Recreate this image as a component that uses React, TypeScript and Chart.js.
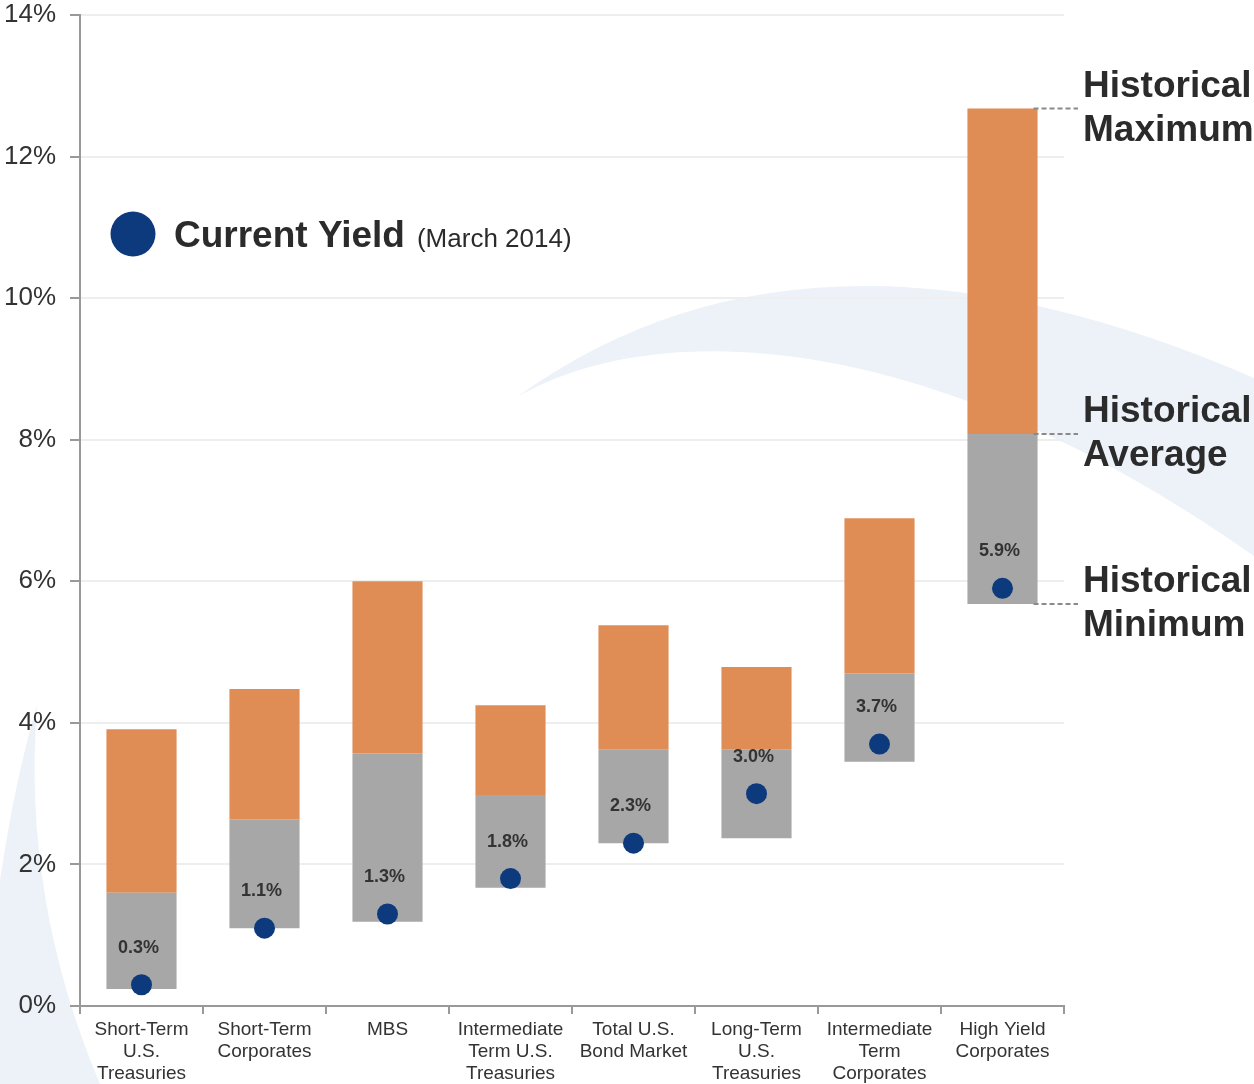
import React, { useEffect, useRef } from "react";
import { Chart, registerables } from "chart.js";

Chart.register(...registerables);

const categories: string[][] = [
  ["Short-Term", "U.S.", "Treasuries"],
  ["Short-Term", "Corporates"],
  ["MBS"],
  ["Intermediate", "Term U.S.", "Treasuries"],
  ["Total U.S.", "Bond Market"],
  ["Long-Term", "U.S.", "Treasuries"],
  ["Intermediate", "Term", "Corporates"],
  ["High Yield", "Corporates"],
];

const histMin = [0.24, 1.1, 1.19, 1.67, 2.3, 2.37, 3.45, 5.68];
const histAvg = [1.6, 2.64, 3.57, 2.98, 3.62, 3.62, 4.7, 8.08];
const histMax = [3.91, 4.48, 6.0, 4.25, 5.38, 4.79, 6.89, 12.68];
const currentYield = [0.3, 1.1, 1.3, 1.8, 2.3, 3.0, 3.7, 5.9];

const yTicks = [0, 2, 4, 6, 8, 10, 12, 14];

const FONT = "'Liberation Sans', Arial, Helvetica, sans-serif";
const ORANGE = "#df8c55";
const GREY = "#a7a7a7";
const NAVY = "#0c3a7c";
const TEXT = "#333333";
const SWOOSH = "#edf2f9";

const backgroundPlugin = {
  id: "bgSwoosh",
  beforeDraw(chart: any) {
    const ctx = chart.ctx;
    const W = chart.width;
    const H = chart.height;
    ctx.save();
    ctx.fillStyle = "#ffffff";
    ctx.fillRect(0, 0, W, H);
    ctx.fillStyle = SWOOSH;
    // top-right swoosh
    ctx.beginPath();
    ctx.moveTo(517, 397);
    ctx.quadraticCurveTo(810, 185, W, 378);
    ctx.lineTo(W, 556);
    ctx.bezierCurveTo(920, 320, 650, 320, 517, 397);
    ctx.closePath();
    ctx.fill();
    // bottom-left swoosh
    ctx.beginPath();
    ctx.moveTo(37, 705);
    ctx.quadraticCurveTo(22, 900, 100, H);
    ctx.lineTo(0, H);
    ctx.lineTo(0, 880);
    ctx.quadraticCurveTo(15, 780, 37, 705);
    ctx.closePath();
    ctx.fill();
    ctx.restore();
  },
};

const overlayPlugin = {
  id: "overlay",
  afterDatasetsDraw(chart: any) {
    const ctx = chart.ctx;
    const y = chart.scales.y;
    const pts = chart.getDatasetMeta(2).data;
    ctx.save();
    // value labels above dots
    ctx.font = `bold 18px ${FONT}`;
    ctx.fillStyle = TEXT;
    ctx.textAlign = "center";
    ctx.textBaseline = "middle";
    pts.forEach((p: any, i: number) => {
      ctx.fillText(currentYield[i].toFixed(1) + "%", p.x - 3, p.y - 37);
    });

    // legend
    ctx.fillStyle = NAVY;
    ctx.beginPath();
    ctx.arc(133, 234, 22.5, 0, Math.PI * 2);
    ctx.fill();
    ctx.fillStyle = "#2b2b2b";
    ctx.textAlign = "left";
    ctx.textBaseline = "alphabetic";
    ctx.font = `bold 37px ${FONT}`;
    ctx.fillText("Current Yield", 174, 247);
    const w = ctx.measureText("Current Yield").width;
    ctx.font = `26px ${FONT}`;
    ctx.fillText("(March 2014)", 174 + w + 12, 247);

    // historical annotations on last bar
    const last = categories.length - 1;
    const bar = chart.getDatasetMeta(1).data[last];
    const right = bar.x + bar.width / 2;
    const items: [number, string][] = [
      [histMax[last], "Maximum"],
      [histAvg[last], "Average"],
      [histMin[last], "Minimum"],
    ];
    items.forEach(([v, word]) => {
      const py = y.getPixelForValue(v);
      ctx.strokeStyle = "#8a8a8a";
      ctx.lineWidth = 2;
      ctx.setLineDash([5, 3]);
      ctx.beginPath();
      ctx.moveTo(right - 4, py);
      ctx.lineTo(1078, py);
      ctx.stroke();
      ctx.setLineDash([]);
      ctx.fillStyle = "#2b2b2b";
      ctx.font = `bold 37px ${FONT}`;
      ctx.textAlign = "left";
      ctx.textBaseline = "middle";
      ctx.fillText("Historical", 1083, py - 22);
      ctx.fillText(word, 1083, py + 22);
    });
    ctx.restore();
  },
};

export default function App() {
  const ref = useRef<HTMLCanvasElement | null>(null);

  useEffect(() => {
    if (!ref.current) return;
    const chart = new Chart(ref.current, {
      type: "bar",
      data: {
        labels: categories as any,
        datasets: [
          {
            label: "Min to Average",
            data: histMin.map((m, i) => [m, histAvg[i]]) as any,
            backgroundColor: GREY,
            grouped: false,
            barPercentage: 0.57,
            categoryPercentage: 1,
            order: 2,
          } as any,
          {
            label: "Average to Max",
            data: histAvg.map((a, i) => [a, histMax[i]]) as any,
            backgroundColor: ORANGE,
            grouped: false,
            barPercentage: 0.57,
            categoryPercentage: 1,
            order: 2,
          } as any,
          {
            type: "line",
            label: "Current Yield",
            data: currentYield,
            showLine: false,
            pointRadius: 10.5,
            pointHoverRadius: 10.5,
            pointBackgroundColor: NAVY,
            pointBorderWidth: 0,
            borderColor: NAVY,
            order: 1,
          } as any,
        ],
      },
      options: {
        animation: false,
        responsive: false,
        devicePixelRatio: 1,
        layout: { padding: { top: 15, right: 190, left: 0, bottom: 0 } },
        plugins: {
          legend: { display: false },
          tooltip: { enabled: false },
        },
        scales: {
          x: {
            offset: true,
            grid: {
              offset: true,
              drawOnChartArea: false,
              drawTicks: true,
              tickLength: 8,
              color: "#999999",
              lineWidth: 2,
            },
            border: { color: "#999999", width: 2 },
            ticks: {
              color: TEXT,
              font: { family: FONT, size: 19, lineHeight: 1.16 },
              padding: 5,
              maxRotation: 0,
              autoSkip: false,
            },
            afterFit(scale: any) {
              scale.height = 78;
              scale.paddingLeft = 0;
              scale.paddingRight = 0;
            },
          },
          y: {
            min: 0,
            max: 14,
            afterBuildTicks(scale: any) {
              scale.ticks = yTicks.map((v) => ({ value: v }));
            },
            grid: {
              color: "#eeeeee",
              lineWidth: 2,
              tickColor: "#999999",
              tickLength: 10,
            },
            border: { color: "#999999", width: 2 },
            ticks: {
              color: TEXT,
              font: { family: FONT, size: 26 },
              padding: 14,
              callback: (v: any) => v + "%",
            },
            afterFit(scale: any) {
              scale.width = 80;
              scale.paddingTop = 0;
              scale.paddingBottom = 0;
            },
          },
        },
      } as any,
      plugins: [backgroundPlugin, overlayPlugin],
    });
    return () => chart.destroy();
  }, []);

  return (
    <div style={{ position: "absolute", left: 0, top: 0, width: 1254, height: 1084 }}>
      <canvas ref={ref} width={1254} height={1084} />
    </div>
  );
}
